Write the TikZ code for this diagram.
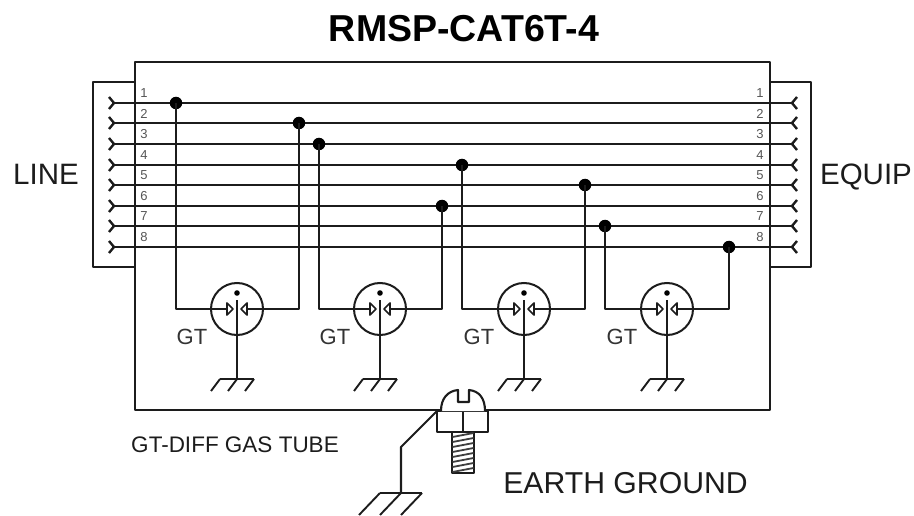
\documentclass[tikz,border=0pt]{standalone}
\usepackage{fontspec}
\setmainfont{Liberation Sans}
\definecolor{ink}{HTML}{1c1c1c}
\tikzset{
  wire/.style={line width=2.1pt,draw=ink,line join=round},
  thin wire/.style={line width=1.9pt,draw=ink,line join=round},
  chev/.style={line width=2.4pt,draw=ink,line join=miter},
  dotn/.style={circle,fill=black,inner sep=0pt,minimum size=12.5pt},
  tube/.style={circle,draw=ink,line width=2pt,inner sep=0pt,minimum size=52pt},
  num/.style={font=\fontsize{13}{13}\selectfont,text=ink!75,inner sep=0pt},
  lab/.style={font=\fontsize{29.5}{30}\selectfont,text=ink,inner sep=0pt,anchor=base},
  gtlab/.style={font=\fontsize{22}{23}\selectfont,text=ink!90,inner sep=0pt},
  gnd/.pic={
    \draw[thin wire] (-17,0) -- (17,0);
    \draw[thin wire] (-17,0) -- (-26,12) (0,0) -- (-9,12) (17,0) -- (8,12);
  }
}
\begin{document}
\begin{tikzpicture}[x=1pt,y=-1pt]
\useasboundingbox (0,0) rectangle (914,516);
% title and labels
\node[font=\fontsize{37.5}{38}\selectfont\bfseries,text=black,inner sep=0pt] (title) at (464,29) {RMSP-CAT6T-4};
\node[lab] (line) at (46,185) {LINE};
\node[lab] (equip) at (866,185) {EQUIP};
\node[font=\fontsize{22.5}{23}\selectfont,text=ink,inner sep=0pt] (gdt) at (235,445) {GT-DIFF GAS TUBE};
\node[lab,font=\fontsize{30.2}{31}\selectfont] (earth) at (625.5,493) {EARTH GROUND};
% housing
\draw[wire] (135,62) rectangle (770,410);
\draw[wire] (135,82) -- (93,82) -- (93,267) -- (135,267);
\draw[wire] (770,82) -- (811,82) -- (811,267) -- (770,267);
% pair wires
\foreach \i/\y in {1/103,2/123,3/144,4/165,5/185,6/206,7/226,8/247}{
  \coordinate (L\i) at (114,\y);
  \coordinate (R\i) at (792,\y);
  \draw[wire] (L\i) -- (R\i);
  \draw[chev] (109,\y-6) -- (L\i) -- (109,\y+6);
  \draw[chev] (797,\y-6) -- (R\i) -- (797,\y+6);
  \node[num] (nl\i) at (144,\y-9.5) {\i};
  \node[num] (nr\i) at (760,\y-9.5) {\i};
}
% junction dots
\node[dotn] (d1) at (176,103) {};
\node[dotn] (d2) at (299,123) {};
\node[dotn] (d3) at (319,144) {};
\node[dotn] (d4) at (462,165) {};
\node[dotn] (d5) at (585,185) {};
\node[dotn] (d6) at (442,206) {};
\node[dotn] (d7) at (605,226) {};
\node[dotn] (d8) at (729,247) {};
% gas tubes
\foreach \n/\x/\a/\b in {1/237/1/2,2/380/3/6,3/524/4/5,4/667/7/8}{
  \node[tube] (t\n) at (\x,309) {};
  \draw[wire] (d\a.center) |- (\x-5,309);
  \draw[wire] (d\b.center) |- (\x+5,309);
  \fill[white] (\x-4,309) -- (\x-10,303) -- (\x-10,315) -- cycle;
  \draw[thin wire,line width=1.7pt] (\x-4,309) -- (\x-10,303) -- (\x-10,315) -- cycle;
  \fill[white] (\x+4,309) -- (\x+10,303) -- (\x+10,315) -- cycle;
  \draw[thin wire,line width=1.7pt] (\x+4,309) -- (\x+10,303) -- (\x+10,315) -- cycle;
  \fill[black] (\x,293) circle (2.8pt);
  \coordinate (g\n) at (\x,379);
  \draw[thin wire] (\x,300) -- (g\n);
  \pic at (g\n) {gnd};
  \node[gtlab] (gt\n) at (\x-45,337) {GT};
}
% screw
\coordinate (lug) at (437,411);
\coordinate (bend) at (401,447);
\coordinate (eg) at (401,493);
\draw[wire,fill=white] (437,411) rectangle (488,432);
\draw[wire] (463,411) -- (463,432);
\draw[wire,fill=white] (441,411) .. controls (441,398) and (448,391) .. (458,390) -- (458,402) -- (469,402) -- (469,390) .. controls (479,391) and (485,398) .. (485,411);
\draw[thin wire,fill=white] (452,432) rectangle (474,473);
\foreach \y in {435,440,...,470}{
  \draw[line width=1.8pt,draw=ink!85] (452.5,\y+2) -- (473.5,\y-2);
}
\draw[wire] (lug) -- (bend) -- (eg);
\draw[thin wire] (380,493) -- (422,493);
\draw[thin wire] (380,493) -- (359,515) (401,493) -- (380,515) (422,493) -- (401,515);
\end{tikzpicture}
\end{document}
